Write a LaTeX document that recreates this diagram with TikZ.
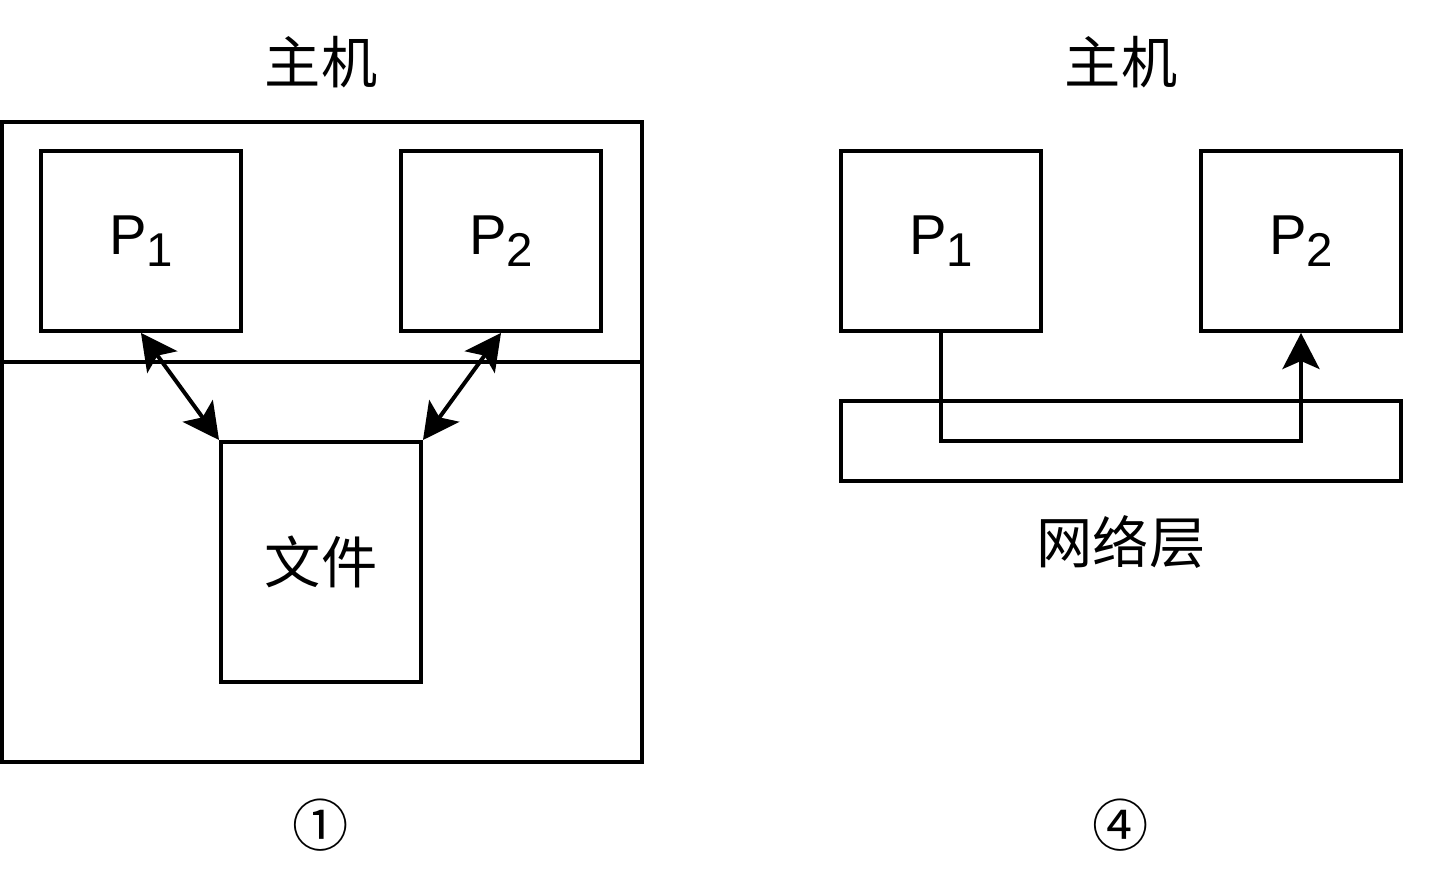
\documentclass[tikz,border=0pt]{standalone}
\usepackage{fontspec}
\setmainfont{Liberation Sans}
\newcommand{\cjk}{\fontspec{Noto Sans CJK SC}}
\usetikzlibrary{arrows.meta}
\newcommand{\proc}[1]{P\raisebox{-0.22em}{\fontsize{27}{27}\selectfont #1}}
\tikzset{
  box/.style={draw, line width=0.08cm, minimum width=4cm, minimum height=3.6cm, inner sep=0pt},
  big/.style={font=\fontsize{32}{38}\selectfont},
  >={Stealth[length=0.72cm, width=0.74cm, inset=0.16cm]}
}
\begin{document}
\begin{tikzpicture}[x=0.02cm, y=-0.02cm, big]
        \useasboundingbox (0,0) rectangle (1444,884);
        \draw[line width=0.08cm] (2,122) rectangle (642,762);
        \draw[line width=0.08cm] (2,362) -- (642,362);
        \node[box] (p1) at (141,241) {\proc{1}};
        \node[box] (p2) at (501,241) {\proc{2}};
        \node[box, minimum height=4.8cm] (file) at (321,562) {\cjk 文件};
        \draw[line width=0.08cm,<->] (p1.south) -- (file.north west);
        \draw[line width=0.08cm,<->] (p2.south) -- (file.north east);
        \node (host1) at (321,62) {\cjk 主机};
        \node (n1) at (321,825) {\cjk ①};

        \node[box] (q1) at (941,241) {\proc{1}};
        \node[box] (q2) at (1301,241) {\proc{2}};
        \node[box, minimum width=11.2cm, minimum height=1.6cm] (net) at (1121,441) {};
        \draw[line width=0.08cm,->] (q1.south) |- (net.center) -| (q2.south);
        \node (host2) at (1121,62) {\cjk 主机};
        \node (netlbl) at (1121,542) {\cjk 网络层};
        \node (n4) at (1121,825) {\cjk ④};
    \end{tikzpicture}
\end{document}
